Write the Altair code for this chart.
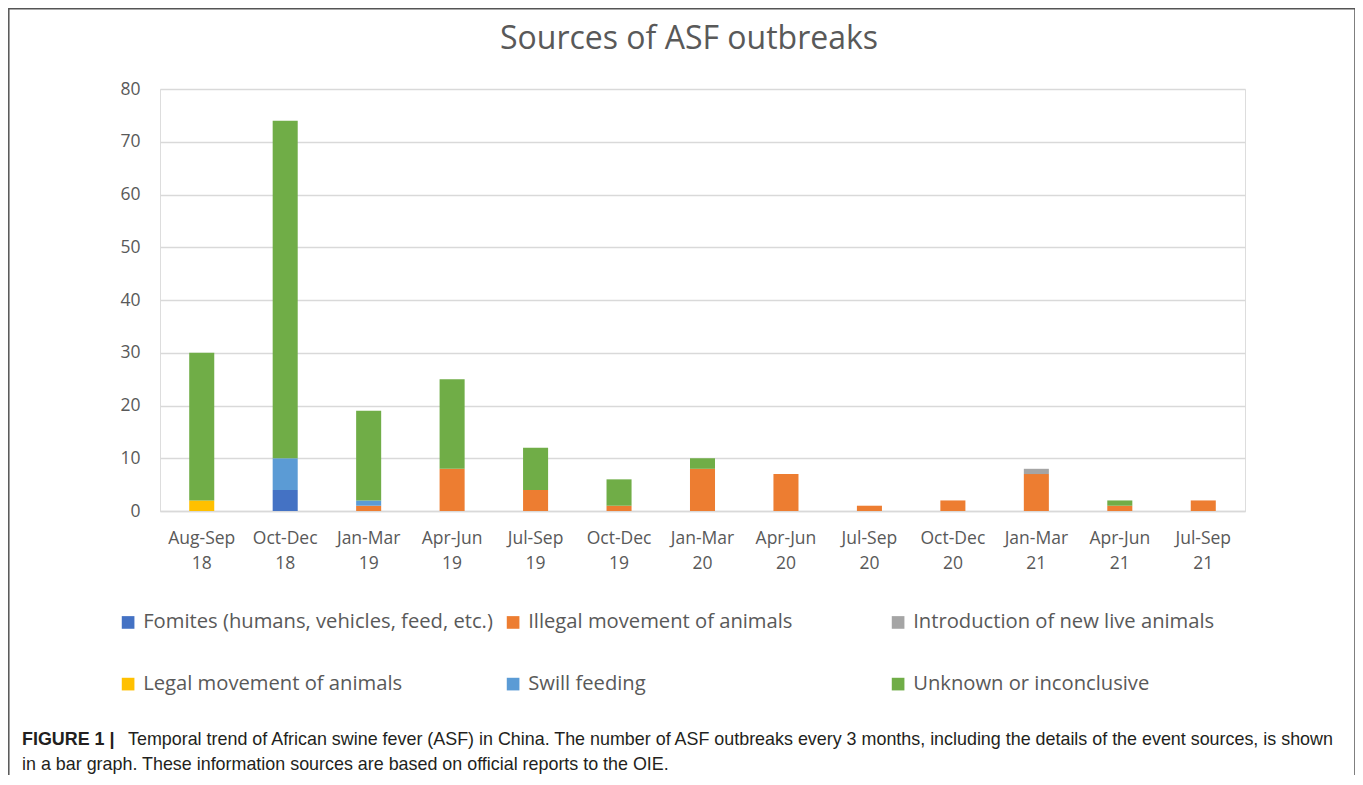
import altair as alt
import pandas as pd

periods = ["Aug-Sep|18", "Oct-Dec|18", "Jan-Mar|19", "Apr-Jun|19", "Jul-Sep|19",
           "Oct-Dec|19", "Jan-Mar|20", "Apr-Jun|20", "Jul-Sep|20", "Oct-Dec|20",
           "Jan-Mar|21", "Apr-Jun|21", "Jul-Sep|21"]
sources = ["Fomites (humans, vehicles, feed, etc.)", "Illegal movement of animals",
           "Introduction of new live animals", "Legal movement of animals",
           "Swill feeding", "Unknown or inconclusive"]
colors = ["#4472C4", "#ED7D31", "#A5A5A5", "#FFC000", "#5B9BD5", "#70AD47"]

fomites = [0, 4, 0, 0, 0, 0, 0, 0, 0, 0, 0, 0, 0]
illegal = [0, 0, 1, 8, 4, 1, 8, 7, 1, 2, 7, 1, 2]
introduction = [0, 0, 0, 0, 0, 0, 0, 0, 0, 0, 1, 0, 0]
legal = [2, 0, 0, 0, 0, 0, 0, 0, 0, 0, 0, 0, 0]
swill = [0, 6, 1, 0, 0, 0, 0, 0, 0, 0, 0, 0, 0]
unknown = [28, 64, 17, 17, 8, 5, 2, 0, 0, 0, 0, 1, 0]

title_text = "Sources of ASF outbreaks"
caption_bold = "FIGURE 1 |"
caption_line1 = ("Temporal trend of African swine fever (ASF) in China. The number of ASF outbreaks "
                 "every 3 months, including the details of the event sources, is shown")
caption_line2 = "in a bar graph. These information sources are based on official reports to the OIE."

series = [fomites, illegal, introduction, legal, swill, unknown]
rows = []
for si, (name, vals) in enumerate(zip(sources, series)):
    for p, v in zip(periods, vals):
        if v > 0:
            rows.append({"period": p, "source": name, "count": v, "idx": si})
df = pd.DataFrame(rows)

GRAY = "#595959"
FONT = "Open Sans"

bars = alt.Chart(df).mark_bar().encode(
    x=alt.X("period:N", sort=periods, title=None,
            scale=alt.Scale(paddingInner=0.7, paddingOuter=0.35),
            axis=alt.Axis(labelExpr="split(datum.label, '|')", labelAngle=0,
                          labelFont=FONT, labelFontSize=17.5, labelColor=GRAY,
                          labelLineHeight=25, labelPadding=18, ticks=False,
                          domainColor="#D9D9D9", domainWidth=1.3)),
    y=alt.Y("count:Q", title=None,
            scale=alt.Scale(domain=[0, 80]),
            axis=alt.Axis(values=list(range(0, 81, 10)), labelFont=FONT, labelFontSize=17.5,
                          labelColor=GRAY, labelPadding=20, ticks=False, domain=False,
                          gridColor="#D9D9D9", gridWidth=1.3)),
    color=alt.Color("source:N", scale=alt.Scale(domain=sources, range=colors),
                    legend=alt.Legend(title=None, orient="none", legendX=-42, legendY=523,
                                      direction="horizontal", columns=3, gridAlign="all",
                                      columnPadding=10, rowPadding=41, padding=0,
                                      symbolType="square", symbolSize=160, symbolStrokeWidth=0,
                                      labelFont=FONT, labelFontSize=20.2, labelColor=GRAY,
                                      labelOffset=5, labelLimit=500)),
    order=alt.Order("idx:Q", sort="ascending"),
)

single = pd.DataFrame({"k": [0]})

title = alt.Chart(single).mark_text(
    text=title_text, font=FONT, fontSize=32, color=GRAY, align="center", baseline="alphabetic"
).encode(x=alt.value(529), y=alt.value(-40))

cap_b = alt.Chart(single).mark_text(
    text=caption_bold, font="Liberation Sans", fontSize=17.9, fontWeight="bold", color="#231F20",
    align="left", baseline="alphabetic"
).encode(x=alt.value(-138), y=alt.value(656))

cap_1 = alt.Chart(single).mark_text(
    text=caption_line1, font="Liberation Sans", fontSize=17.9, color="#231F20",
    align="left", baseline="alphabetic"
).encode(x=alt.value(-32), y=alt.value(656))

cap_2 = alt.Chart(single).mark_text(
    text=caption_line2, font="Liberation Sans", fontSize=17.9, color="#231F20",
    align="left", baseline="alphabetic"
).encode(x=alt.value(-138), y=alt.value(681))

frame = alt.Chart(single).mark_rect(
    fill="transparent", stroke="#555555", strokeWidth=1.5
).encode(x=alt.value(-151.2), x2=alt.value(1195), y=alt.value(-80.2), y2=alt.value(720))

chart = alt.layer(bars, title, cap_b, cap_1, cap_2, frame).properties(
    width=1085, height=422,
    autosize=alt.AutoSizeParams(type="none"),
    padding={"left": 152, "top": 81, "right": 110, "bottom": 264},
).configure_view(stroke=None).configure(background="white")

chart.save("out.html", embed_options={"renderer": "svg", "actions": False})
